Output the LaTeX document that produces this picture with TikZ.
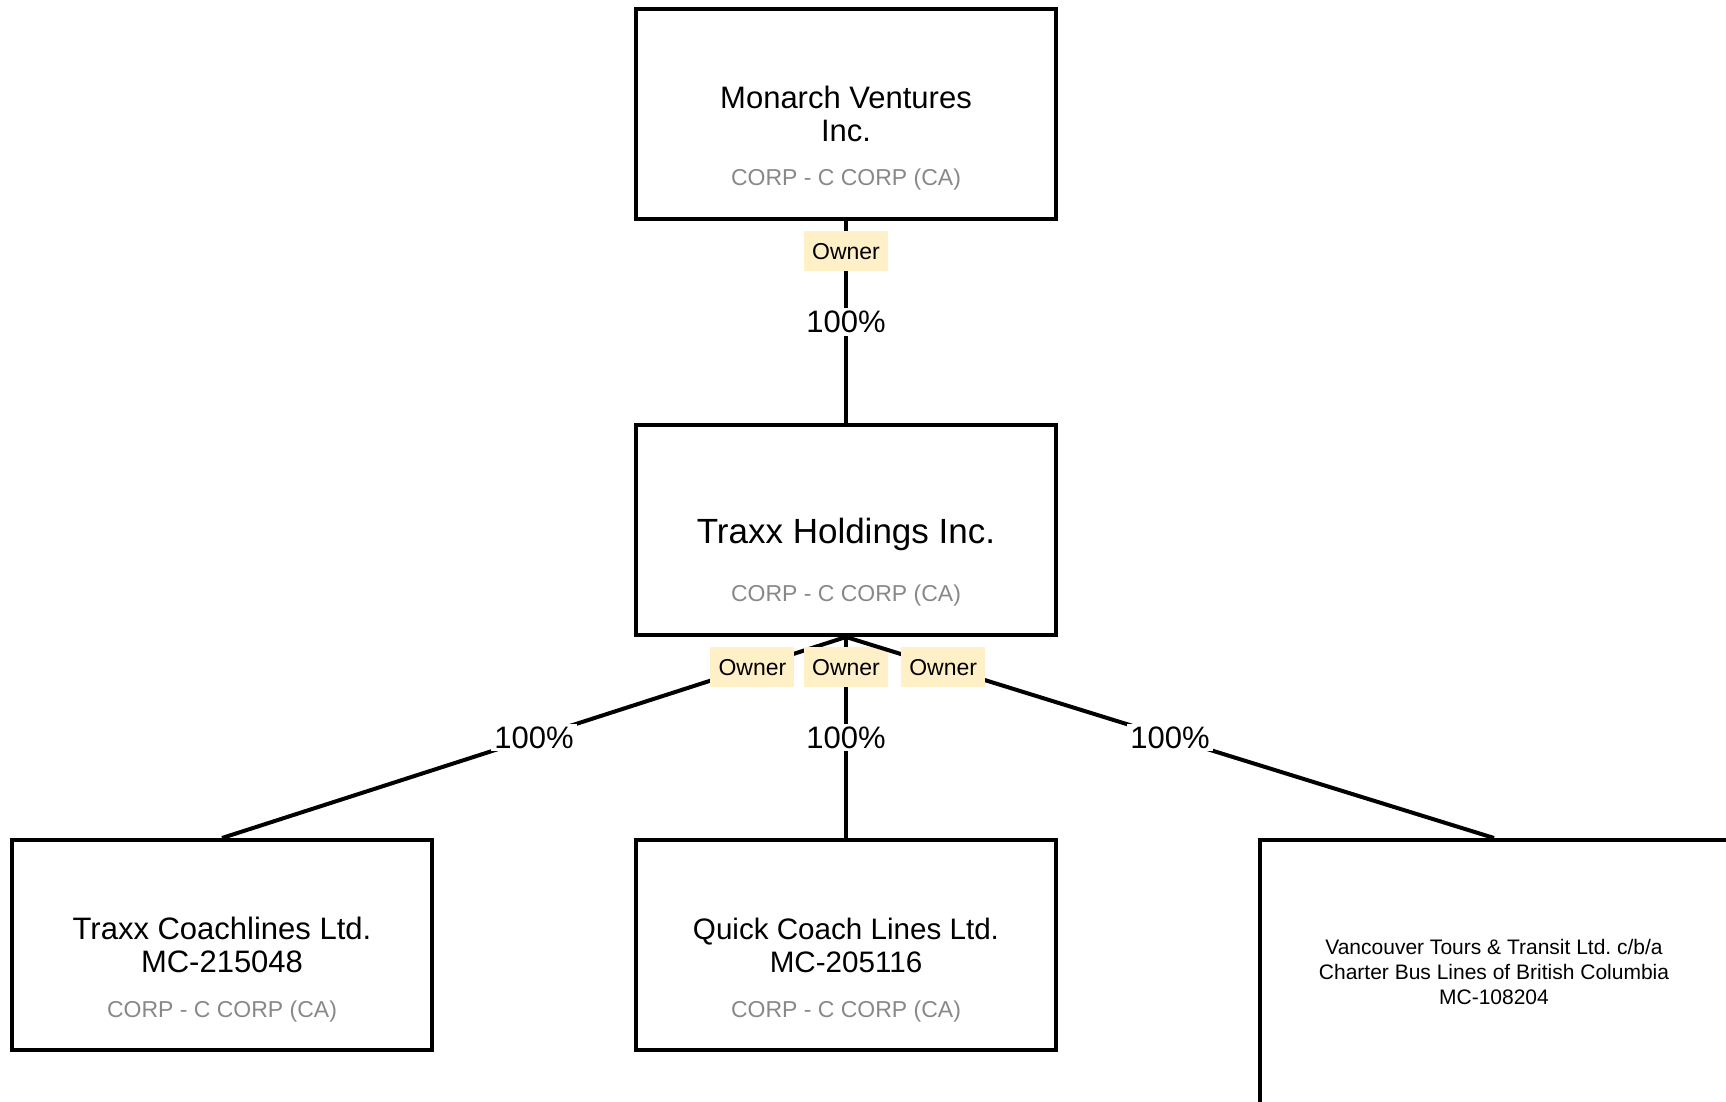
\documentclass[tikz,border=0pt]{standalone}
\usepackage{fontspec}
\setmainfont{Liberation Sans}
\frenchspacing
\definecolor{ownerfill}{RGB}{255,240,200}
\definecolor{corpgray}{RGB}{136,136,136}
\begin{document}
\begin{tikzpicture}[x=0.5pt,y=-0.5pt,
		entity/.style={draw,line width=2pt,minimum width=210pt,minimum height=105pt,align=center,font=\fontsize{15.5}{16.5}\selectfont},
		corp/.style={text=corpgray,font=\fontsize{11.5}{13}\selectfont,inner sep=0pt},
		link/.style={line width=2pt},
		owner/.style={fill=ownerfill,font=\fontsize{11.5}{13}\selectfont,minimum width=42pt,minimum height=20pt,inner sep=0pt,pos=0.15},
		share/.style={fill=white,font=\fontsize{15.5}{17}\selectfont,inner sep=1.5pt,pos=0.5}]
		%\draw[help lines] (0,0) grid[step=100] (1726,1102);
		\useasboundingbox (0,0) rectangle (1726,1102);
		\node[entity] (MV) at (846,114) {Monarch Ventures\\Inc.};
		\node[entity,font=\fontsize{17.5}{19}\selectfont,text height=15.4pt,text depth=2pt] (TH) at (846,530) {Traxx Holdings Inc.};
		\node[entity] (TC) at (222,945) {Traxx Coachlines Ltd.\\MC-215048};
		\node[entity,font=\fontsize{14.8}{16.5}\selectfont] (QC) at (846,945) {Quick Coach Lines Ltd.\\MC-205116};
		\node[entity,minimum width=234pt,minimum height=132pt,font=\fontsize{10.5}{12.65}\selectfont] (VT) at (1494,972) {Vancouver Tours \& Transit Ltd. c/b/a\\Charter Bus Lines of British Columbia\\MC-108204};
		\node[corp] (MVc) at ([yshift=-33pt]MV.center) {CORP - C CORP (CA)};
		\node[corp] (THc) at ([yshift=-33pt]TH.center) {CORP - C CORP (CA)};
		\node[corp] (TCc) at ([yshift=-33.5pt]TC.center) {CORP - C CORP (CA)};
		\node[corp] (QCc) at ([yshift=-33.5pt]QC.center) {CORP - C CORP (CA)};
		\draw[link] (MV.south) -- node[share] {100\%} node[owner] {Owner} (TH.north);
		\draw[link] (TH.south) -- node[share] {100\%} node[owner] {Owner} (TC.north);
		\draw[link] (TH.south) -- node[share] {100\%} node[owner] {Owner} (QC.north);
		\draw[link] (TH.south) -- node[share] {100\%} node[owner] {Owner} (VT.north);
	\end{tikzpicture}
\end{document}
